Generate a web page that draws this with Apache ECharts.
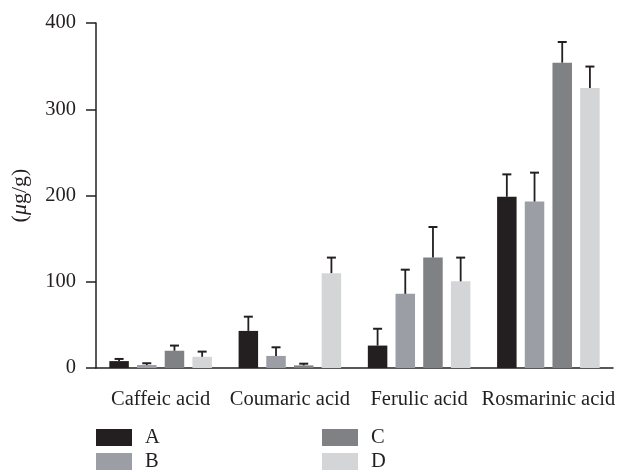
<!DOCTYPE html>
<html>
<head>
<meta charset="utf-8">
<script src="https://cdn.jsdelivr.net/npm/echarts@6/dist/echarts.min.js"></script>
<style>
html,body{margin:0;padding:0;background:#fff;}
#chart{width:621px;height:472px;}
</style>
</head>
<body>
<div id="chart"></div>
<script>
const categories = ['Caffeic acid', 'Coumaric acid', 'Ferulic acid', 'Rosmarinic acid'];
const seriesNames = ['A', 'B', 'C', 'D'];
const valuesA = [8, 43, 26, 198.5];
const valuesB = [3.5, 14, 86, 193];
const valuesC = [20, 3, 128, 354];
const valuesD = [13, 110, 100.5, 324.5];
const errorsA = [2.5, 16.5, 19.5, 26];
const errorsB = [2, 10, 28, 33.5];
const errorsC = [6, 2, 35.5, 24];
const errorsD = [6, 18, 27.5, 25];
const yTicks = [0, 100, 200, 300, 400];

const colors = ['#231f20', '#9b9ea4', '#808184', '#d4d5d7'];
const allValues = [valuesA, valuesB, valuesC, valuesD];
const allErrors = [errorsA, errorsB, errorsC, errorsD];
const BAR_WIDTH = 19.5;
const BAR_GAP = 0.42;
const FONT = '"Liberation Serif", "DejaVu Serif", serif';
const INK = '#231f20';
const FS = 20.5;

const errData = [];
allValues.forEach((vals, si) => {
  vals.forEach((v, ci) => errData.push([ci, v, allErrors[si][ci], si]));
});

const chart = echarts.init(document.getElementById('chart'), null, {renderer: 'canvas'});

const barSeries = seriesNames.map((name, si) => ({
  name: name,
  type: 'bar',
  data: allValues[si],
  barWidth: BAR_WIDTH,
  barGap: (BAR_GAP * 100) + '%',
  itemStyle: {color: colors[si]},
  emphasis: {disabled: true},
  z: 2
}));

const errSeries = {
  type: 'custom',
  data: errData,
  z: 5,
  silent: true,
  encode: {x: 0, y: 1},
  renderItem: function (params, api) {
    const ci = api.value(0), v = api.value(1), e = api.value(2), si = api.value(3);
    const gap = BAR_WIDTH * BAR_GAP;
    const total = 4 * BAR_WIDTH + 3 * gap;
    const base = api.coord([ci, v]);
    const top = api.coord([ci, v + e]);
    const cx = base[0] - total / 2 + BAR_WIDTH / 2 + si * (BAR_WIDTH + gap);
    const style = {stroke: INK, lineWidth: 1.8};
    return {
      type: 'group',
      children: [
        {type: 'line', shape: {x1: cx, y1: base[1], x2: cx, y2: top[1]}, style: style},
        {type: 'line', shape: {x1: cx - 4.5, y1: top[1], x2: cx + 4.5, y2: top[1]}, style: {stroke: INK, lineWidth: 2}}
      ]
    };
  }
};

const legendCommon = {
  orient: 'vertical',
  top: 427,
  height: 60,
  itemWidth: 36,
  itemHeight: 17,
  itemGap: 3,
  padding: 0,
  icon: 'rect',
  selectedMode: false,
  textStyle: {fontFamily: FONT, fontSize: FS, color: INK, lineHeight: 17, padding: [0, 0, 0, 8]}
};

chart.setOption({
  animation: false,
  backgroundColor: '#ffffff',
  grid: {left: 96, right: 8, top: 23, bottom: 104},
  legend: [
    Object.assign({}, legendCommon, {left: 96, data: ['A', 'B']}),
    Object.assign({}, legendCommon, {left: 322, data: ['C', 'D']})
  ],
  xAxis: {
    type: 'category',
    data: categories,
    axisLine: {lineStyle: {color: INK, width: 1.5}},
    axisTick: {alignWithLabel: true, length: 10, lineStyle: {color: INK, width: 1.5}},
    axisLabel: {fontFamily: FONT, fontSize: FS, color: INK, margin: 21, interval: 0}
  },
  yAxis: {
    type: 'value',
    min: yTicks[0],
    max: yTicks[yTicks.length - 1],
    interval: yTicks[1] - yTicks[0],
    name: '{p|(}{m|μ}{p|g/g)}',
    nameLocation: 'middle',
    nameGap: 65,
    nameTextStyle: {
      fontFamily: FONT, fontSize: 22, color: INK,
      rich: {
        p: {fontFamily: FONT, fontSize: 22, color: INK},
        m: {fontFamily: FONT, fontSize: 22, color: INK, fontStyle: 'italic'}
      }
    },
    axisLine: {show: true, lineStyle: {color: INK, width: 1.5}},
    axisTick: {show: true, length: 10, lineStyle: {color: INK, width: 1.5}},
    axisLabel: {fontFamily: FONT, fontSize: FS, color: INK, margin: 20},
    splitLine: {show: false}
  },
  series: barSeries.concat([errSeries])
});
</script>
</body>
</html>
